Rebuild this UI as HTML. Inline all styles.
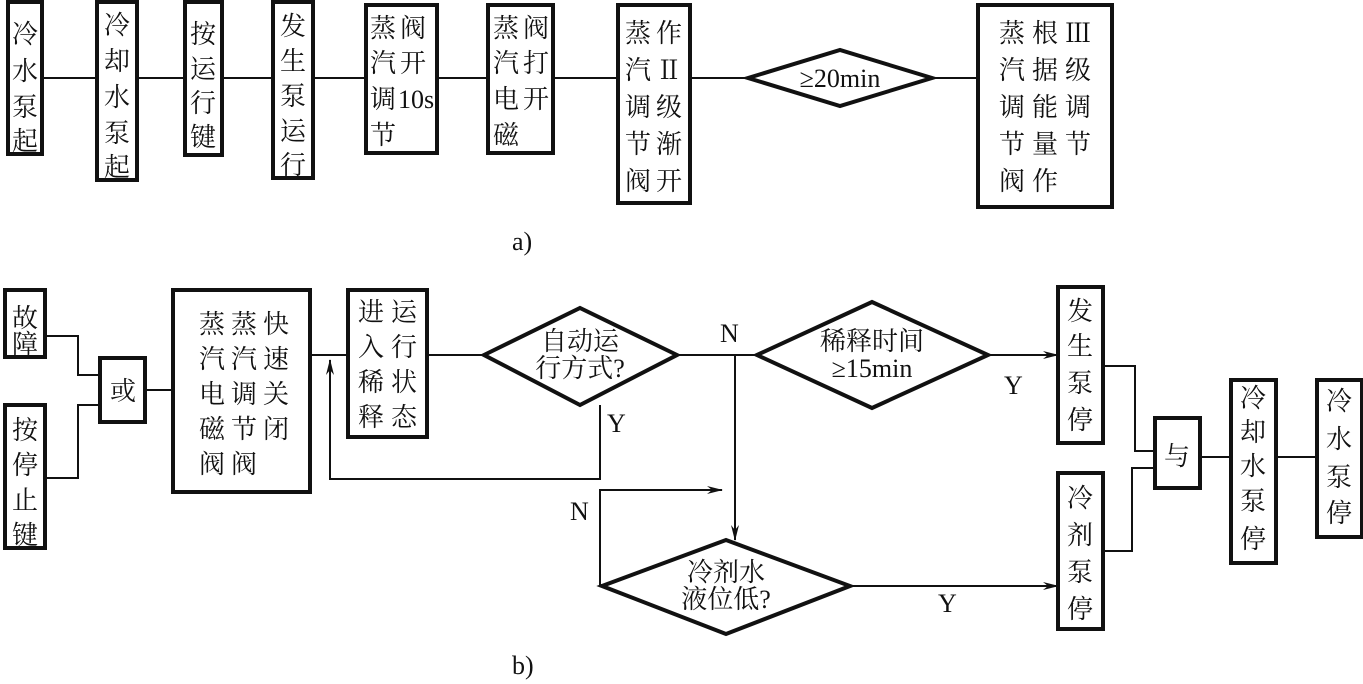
<!DOCTYPE html>
<html><head><meta charset="utf-8"><style>
html,body{margin:0;padding:0;background:#fff;}
svg{display:block;}
text{font-family:"Liberation Serif","Noto Serif CJK SC",serif;font-size:26px;fill:#111;}
.b{fill:none;stroke:#111;stroke-width:4;}
.l{fill:none;stroke:#111;stroke-width:2;}
</style></head><body>
<svg width="1363" height="684" viewBox="0 0 1363 684" xmlns="http://www.w3.org/2000/svg">
<defs><marker id="a" markerWidth="16" markerHeight="8" refX="15" refY="4" orient="auto" markerUnits="userSpaceOnUse"><path d="M0,0 L16,4 L0,8 L5,4 Z" fill="#111"/></marker></defs>
<!-- top row -->
<line class="l" x1="42" y1="78" x2="978" y2="78"/>
<rect class="b" x="8" y="2" width="34" height="152" fill="#fff" style="fill:#fff"/>
<rect class="b" x="97" y="2" width="40" height="178" style="fill:#fff"/>
<rect class="b" x="185" y="2" width="37" height="153" style="fill:#fff"/>
<rect class="b" x="273" y="2" width="40" height="176" style="fill:#fff"/>
<rect class="b" x="366" y="5" width="71" height="148" style="fill:#fff"/>
<rect class="b" x="488" y="5" width="65" height="148" style="fill:#fff"/>
<rect class="b" x="618" y="5" width="72" height="198" style="fill:#fff"/>
<polygon class="b" points="748,78 840,50 932,78 840,106" style="fill:#fff"/>
<rect class="b" x="978" y="5" width="134" height="202" style="fill:#fff"/>
<text text-anchor="middle"><tspan x="25" y="43">冷</tspan><tspan x="25" y="80">水</tspan><tspan x="25" y="116">泵</tspan><tspan x="25" y="150">起</tspan></text>
<text text-anchor="middle"><tspan x="117" y="34">冷</tspan><tspan x="117" y="70">却</tspan><tspan x="117" y="106">水</tspan><tspan x="117" y="142">泵</tspan><tspan x="117" y="176">起</tspan></text>
<text text-anchor="middle"><tspan x="203" y="43">按</tspan><tspan x="203" y="78">运</tspan><tspan x="203" y="112">行</tspan><tspan x="203" y="146">键</tspan></text>
<text text-anchor="middle"><tspan x="293" y="35">发</tspan><tspan x="293" y="70">生</tspan><tspan x="293" y="105">泵</tspan><tspan x="293" y="140">运</tspan><tspan x="293" y="174">行</tspan></text>
<text text-anchor="middle"><tspan x="383" y="37">蒸</tspan><tspan x="383" y="72">汽</tspan><tspan x="383" y="108">调</tspan><tspan x="383" y="144">节</tspan></text>
<text><tspan x="400" y="37">阀</tspan><tspan x="400" y="72">开</tspan><tspan x="398" y="108">10s</tspan></text>
<text text-anchor="middle"><tspan x="506" y="37">蒸</tspan><tspan x="506" y="72">汽</tspan><tspan x="506" y="108">电</tspan><tspan x="506" y="144">磁</tspan></text>
<text text-anchor="middle"><tspan x="536" y="37">阀</tspan><tspan x="536" y="72">打</tspan><tspan x="536" y="108">开</tspan></text>
<text text-anchor="middle"><tspan x="638" y="42">蒸</tspan><tspan x="638" y="79">汽</tspan><tspan x="638" y="116">调</tspan><tspan x="638" y="153">节</tspan><tspan x="638" y="190">阀</tspan></text>
<text text-anchor="middle"><tspan x="669" y="42">作</tspan><tspan x="669" y="79">Ⅱ</tspan><tspan x="669" y="116">级</tspan><tspan x="669" y="153">渐</tspan><tspan x="669" y="190">开</tspan></text>
<text x="840" y="87" text-anchor="middle">≥20min</text>
<text text-anchor="middle"><tspan x="1012" y="42">蒸</tspan><tspan x="1012" y="79">汽</tspan><tspan x="1012" y="116">调</tspan><tspan x="1012" y="153">节</tspan><tspan x="1012" y="190">阀</tspan></text>
<text text-anchor="middle"><tspan x="1045" y="42">根</tspan><tspan x="1045" y="79">据</tspan><tspan x="1045" y="116">能</tspan><tspan x="1045" y="153">量</tspan><tspan x="1045" y="190">作</tspan></text>
<text text-anchor="middle"><tspan x="1078" y="42">Ⅲ</tspan><tspan x="1078" y="79">级</tspan><tspan x="1078" y="116">调</tspan><tspan x="1078" y="153">节</tspan></text>
<text x="512" y="250">a)</text>
<!-- bottom -->
<polyline class="l" points="45,336 78,336 78,375 100,375"/>
<polyline class="l" points="45,478 78,478 78,405 100,405"/>
<line class="l" x1="145" y1="390" x2="173" y2="390"/>
<line class="l" x1="310" y1="355" x2="348" y2="355"/>
<line class="l" x1="427" y1="355" x2="484" y2="355"/>
<line class="l" x1="677" y1="355" x2="757" y2="355"/>
<line class="l" x1="988" y1="355" x2="1058" y2="355" marker-end="url(#a)"/>
<polyline class="l" points="600,405 600,479 330,479 330,360" marker-end="url(#a)"/>
<line class="l" x1="735" y1="355" x2="735" y2="540" marker-end="url(#a)"/>
<polyline class="l" points="622,585 600,585 600,490 722,490" marker-end="url(#a)"/>
<line class="l" x1="850" y1="586" x2="1058" y2="586" marker-end="url(#a)"/>
<polyline class="l" points="1103,366 1135,366 1135,451 1155,451"/>
<polyline class="l" points="1103,551 1132,551 1132,468 1155,468"/>
<line class="l" x1="1200" y1="457" x2="1317" y2="457"/>
<rect class="b" x="5" y="290" width="40" height="67" style="fill:#fff"/>
<rect class="b" x="5" y="405" width="40" height="143" style="fill:#fff"/>
<rect class="b" x="100" y="358" width="45" height="64" style="fill:#fff"/>
<rect class="b" x="173" y="290" width="137" height="202" style="fill:#fff"/>
<rect class="b" x="348" y="290" width="79" height="147" style="fill:#fff"/>
<polygon class="b" points="484,355 580,308 677,355 580,405" style="fill:#fff"/>
<polygon class="b" points="757,355 872,302 988,355 872,408" style="fill:#fff"/>
<polygon class="b" points="602,586 726,540 850,586 726,634" style="fill:#fff"/>
<rect class="b" x="1058" y="287" width="45" height="156" style="fill:#fff"/>
<rect class="b" x="1058" y="473" width="45" height="156" style="fill:#fff"/>
<rect class="b" x="1155" y="418" width="45" height="70" style="fill:#fff"/>
<rect class="b" x="1231" y="380" width="45" height="183" style="fill:#fff"/>
<rect class="b" x="1317" y="380" width="45" height="157" style="fill:#fff"/>
<text text-anchor="middle"><tspan x="25" y="327">故</tspan><tspan x="25" y="353">障</tspan></text>
<text text-anchor="middle"><tspan x="25" y="439">按</tspan><tspan x="25" y="474">停</tspan><tspan x="25" y="509">止</tspan><tspan x="25" y="544">键</tspan></text>
<text x="123" y="400" text-anchor="middle">或</text>
<text text-anchor="middle"><tspan x="212" y="333">蒸</tspan><tspan x="212" y="368">汽</tspan><tspan x="212" y="403">电</tspan><tspan x="212" y="438">磁</tspan><tspan x="212" y="473">阀</tspan></text>
<text text-anchor="middle"><tspan x="244" y="333">蒸</tspan><tspan x="244" y="368">汽</tspan><tspan x="244" y="403">调</tspan><tspan x="244" y="438">节</tspan><tspan x="244" y="473">阀</tspan></text>
<text text-anchor="middle"><tspan x="276" y="333">快</tspan><tspan x="276" y="368">速</tspan><tspan x="276" y="403">关</tspan><tspan x="276" y="438">闭</tspan></text>
<text text-anchor="middle"><tspan x="371" y="321">进</tspan><tspan x="371" y="356">入</tspan><tspan x="371" y="391">稀</tspan><tspan x="371" y="426">释</tspan></text>
<text text-anchor="middle"><tspan x="404" y="321">运</tspan><tspan x="404" y="356">行</tspan><tspan x="404" y="391">状</tspan><tspan x="404" y="426">态</tspan></text>
<text text-anchor="middle"><tspan x="580" y="350">自动运</tspan><tspan x="580" y="377">行方式?</tspan></text>
<text text-anchor="middle"><tspan x="872" y="350">稀释时间</tspan><tspan x="872" y="377">≥15min</tspan></text>
<text text-anchor="middle"><tspan x="726" y="581">冷剂水</tspan><tspan x="726" y="608">液位低?</tspan></text>
<text x="720" y="342">N</text>
<text x="607" y="432">Y</text>
<text x="1004" y="394">Y</text>
<text x="570" y="520">N</text>
<text x="938" y="612">Y</text>
<text text-anchor="middle"><tspan x="1080" y="320">发</tspan><tspan x="1080" y="355">生</tspan><tspan x="1080" y="392">泵</tspan><tspan x="1080" y="429">停</tspan></text>
<text text-anchor="middle"><tspan x="1080" y="507">冷</tspan><tspan x="1080" y="544">剂</tspan><tspan x="1080" y="581">泵</tspan><tspan x="1080" y="618">停</tspan></text>
<text x="1177" y="465" text-anchor="middle">与</text>
<text text-anchor="middle"><tspan x="1253" y="407">冷</tspan><tspan x="1253" y="441">却</tspan><tspan x="1253" y="475">水</tspan><tspan x="1253" y="510">泵</tspan><tspan x="1253" y="548">停</tspan></text>
<text text-anchor="middle"><tspan x="1339" y="410">冷</tspan><tspan x="1339" y="448">水</tspan><tspan x="1339" y="486">泵</tspan><tspan x="1339" y="522">停</tspan></text>
<text x="512" y="674">b)</text>
</svg>
</body></html>
